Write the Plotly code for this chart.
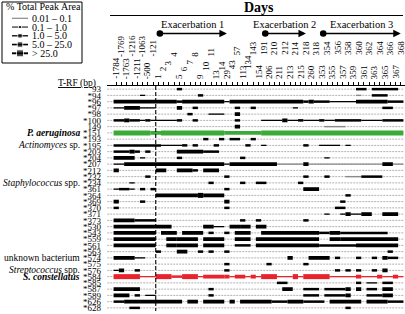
import plotly.graph_objects as go

# ---------------- data ----------------
days = [-1784, -1769, -1763, -1216, -1211, -1063, -500, -121,
        1, 2, 3, 4, 5, 6, 7, 8, 9, 10, 11, 13, 14, 29, 43, 57,
        113, 134, 143, 154, 191, 206, 210, 211, 212, 213, 214, 215, 218,
        260, 318, 353, 354, 355, 356, 357, 358, 359, 360, 361, 362, 363,
        364, 365, 366, 367, 368]

trf_labels = ["93", "*94", "*96", "*97", "*98", "*100", "149", "*151", "*193", "*195",
              "*203", "*204", "*207", "*212", "*232", "*234", "*361", "*364", "*369",
              "*370", "*371", "*373", "*530", "*543", "*559", "*561", "*563", "*574",
              "*575", "*576", "*584", "*585", "*587", "*589", "*626", "*628"]

species_trf = ["*151", "*195", "*234", "*574", "*576", "*584"]
species_names = ["<b><i>P. aeruginosa</i></b>", "<i>Actinomyces</i> sp.",
                 "<i>Staphylococcus</i> spp.", "unknown bacterium",
                 "<i>Streptococcus</i> spp.", "<b><i>S. constellatus</i></b>"]

highlight_trf = ["*151", "*584"]
highlight_colors = ["#3aab36", "#e8232b"]

area_classes = ["0.01 \u2013 0.1", "0.1 \u2013 1.0", "1.0 \u2013 5.0", "5.0 \u2013 25.0", "> 25.0"]

exacerbation_names = ["Exacerbation 1", "Exacerbation 2", "Exacerbation 3"]
exacerbation_start = [1, 191, 353]
exacerbation_end = [29, 218, 368]

# peak-area class (1..5) over runs of sampling days: (first day, last day, class)
t93 = [(5, 5, 3), (360, 361, 3), (363, 367, 3)]
t94 = [(-1063, -1063, 2), (9, 9, 3), (360, 360, 1), (363, 365, 3)]
t96 = [(-1784, 4, 4), (5, 5, 3), (6, 14, 4), (29, 29, 2), (43, 215, 4), (218, 218, 3),
       (260, 260, 4), (318, 354, 3), (355, 359, 2), (360, 365, 4), (366, 368, 3)]
t97 = [(-1784, -1769, 2), (-1763, -1211, 4), (-1063, -121, 2), (5, 5, 4), (8, 8, 3),
       (57, 57, 3), (143, 143, 3), (214, 214, 2), (365, 366, 3)]
t98 = [(7, 7, 3), (11, 14, 2), (57, 57, 4)]
t100 = [(-1784, -1769, 3), (-1763, -1763, 4), (-1216, -1211, 3), (-1063, -1063, 2),
        (-500, -500, 3), (-121, 4, 2), (5, 5, 3), (8, 8, 3), (57, 57, 3), (191, 211, 2),
        (212, 212, 4), (213, 214, 2), (215, 215, 3), (218, 318, 2), (353, 353, 3),
        (354, 355, 2), (356, 360, 3), (361, 364, 2), (365, 368, 3)]
t149 = [(57, 57, 4), (354, 357, 1)]
t151 = [(-1784, -500, 5), (-121, 1, 4), (2, 14, 5), (29, 154, 4), (191, 368, 5)]
t193 = [(10, 10, 3), (14, 14, 3), (43, 57, 3), (143, 143, 3)]
t195 = [(-1784, 1, 3), (2, 5, 2), (6, 6, 3), (8, 8, 3), (13, 13, 3), (134, 134, 3),
        (191, 191, 2), (218, 218, 3), (353, 356, 2), (358, 358, 2)]
t203 = [(-1784, -1763, 3), (-1216, -1216, 4), (-1211, -1211, 3), (-500, -500, 3),
        (5, 9, 4), (10, 13, 3)]
t204 = [(-1784, -1216, 4), (-1063, -1063, 2), (5, 5, 3), (113, 113, 3), (354, 354, 2)]
t207 = [(-1784, -1769, 2), (-1763, 14, 4), (29, 29, 2), (43, 210, 4), (211, 215, 1),
        (218, 218, 4), (260, 364, 1), (365, 366, 4), (367, 368, 1)]
t212 = [(-1784, -1784, 4), (1, 2, 4), (5, 7, 4), (8, 8, 3), (10, 13, 4)]
t232 = [(-500, -500, 3), (29, 29, 3), (218, 218, 3), (354, 354, 3), (358, 360, 1), (361, 364, 3)]
t234 = [(-1216, -1216, 2), (11, 11, 3), (113, 113, 3), (154, 191, 3), (215, 215, 3)]
t361 = [(-1784, -1784, 2), (-1769, -1763, 3), (-1216, -1216, 2), (-1063, -1063, 3),
        (-121, -121, 3), (29, 29, 3), (218, 318, 4)]
t364 = [(1, 8, 4), (9, 9, 5), (10, 14, 4), (358, 358, 3)]
t369 = [(-1784, -1784, 4), (-1063, -1063, 3), (29, 29, 4), (357, 357, 3)]
t370 = [(-1784, -1784, 3), (29, 29, 3), (356, 357, 3)]
t371 = [(354, 354, 2), (357, 357, 2), (358, 358, 4), (359, 360, 2), (361, 362, 4), (365, 367, 4)]
t373 = [(-1784, -1216, 4), (-1211, -121, 3), (113, 113, 3), (154, 154, 3), (218, 218, 3)]
t530 = [(-1784, 3, 4), (10, 11, 4), (13, 14, 2), (43, 57, 4), (113, 134, 4), (154, 191, 4)]
t543 = [(-1784, -121, 4), (2, 4, 4), (6, 9, 4), (11, 11, 3), (29, 29, 3), (57, 134, 4),
        (191, 318, 4), (353, 354, 3), (355, 356, 4), (357, 365, 3)]
t559 = [(-1784, -121, 4), (3, 4, 4), (5, 8, 4), (10, 14, 4), (57, 134, 4), (154, 318, 4),
        (355, 356, 4), (357, 367, 4)]
t561 = [(-1784, -121, 4), (3, 4, 4), (5, 8, 4), (10, 14, 4), (57, 134, 3), (154, 318, 4),
        (353, 359, 3), (360, 367, 4)]
t563 = [(1, 1, 3), (5, 6, 4), (9, 9, 3), (11, 11, 3), (29, 29, 3), (366, 366, 3)]
t574 = [(-1784, -1216, 4), (-1211, -1063, 2), (213, 213, 4), (260, 354, 4), (356, 356, 3),
        (360, 360, 3), (363, 363, 3), (365, 365, 4), (366, 367, 3)]
t575 = [(29, 29, 3), (206, 206, 3), (218, 218, 3)]
t576 = [(-1784, -1784, 2), (-1769, -1769, 4), (-1211, -1211, 3), (29, 29, 3), (356, 356, 3),
        (358, 358, 3), (360, 360, 3), (363, 363, 3), (365, 365, 4)]
t584 = [(-1784, -1211, 5), (-1063, -121, 2), (1, 3, 5), (4, 5, 3), (6, 8, 5), (9, 9, 2),
        (10, 14, 4), (29, 29, 4), (43, 43, 2), (57, 113, 4), (134, 134, 2), (143, 143, 4),
        (154, 154, 2), (191, 210, 5), (211, 213, 2), (214, 214, 5), (215, 215, 2),
        (218, 354, 5), (355, 359, 2), (360, 360, 4), (361, 363, 2), (364, 364, 4),
        (365, 366, 2), (367, 367, 4), (368, 368, 2)]
t585 = [(211, 212, 3), (360, 360, 3), (362, 363, 2), (365, 366, 3)]
t587 = [(-1784, -1211, 4), (11, 11, 3), (212, 213, 4), (218, 318, 3), (354, 357, 3),
        (358, 358, 4), (360, 360, 4), (362, 363, 3), (365, 366, 4)]
t589 = [(-1784, -1763, 4), (-1211, -1211, 3), (-500, -121, 2), (11, 11, 3), (218, 318, 3),
        (354, 357, 3), (358, 358, 4), (362, 364, 3), (365, 366, 4)]
t626 = [(-1784, -1769, 3), (-1763, 5, 4), (7, 8, 4), (10, 14, 4), (43, 43, 4), (113, 206, 4),
        (210, 212, 3), (213, 215, 4), (218, 353, 3), (355, 359, 4), (360, 360, 4),
        (362, 365, 4), (366, 368, 3)]
t628 = [(-1216, -1211, 3), (358, 358, 3)]

profiles = [t93, t94, t96, t97, t98, t100, t149, t151, t193, t195, t203, t204, t207, t212,
            t232, t234, t361, t364, t369, t370, t371, t373, t530, t543, t559, t561, t563,
            t574, t575, t576, t584, t585, t587, t589, t626, t628]

# ---------------- layout helpers ----------------
W, H = 405, 314
FONT = "Liberation Serif"


def px(v):
    return v / W


def py(v):
    return 1 - v / H


col = {d: i for i, d in enumerate(days)}
n_days = len(days)
n_rows = len(trf_labels)

fig = go.Figure()

# row baselines
bx, by = [], []
for r in range(n_rows):
    bx += [-1.7, n_days - 0.4, None]
    by += [r, r, None]
fig.add_trace(go.Scatter(x=bx, y=by, mode="lines", hoverinfo="skip",
                         line=dict(color="#b2b2b2", width=1, dash="2px,1px")))

# peak-area segments
class_width = {1: 1.4, 2: 1.3, 3: 2.5, 4: 3.8, 5: 5.0}
row_color = dict(zip(highlight_trf, highlight_colors))
groups = {}
for r, (lab, segs) in enumerate(zip(trf_labels, profiles)):
    base = row_color.get(lab, "black")
    for d0, d1, cls in segs:
        c = base if (cls > 1 or base != "black") else "#8a8a8a"
        gx, gy = groups.setdefault((cls, c), ([], []))
        gx += [col[d0] - 0.5, col[d1] + 0.5, None]
        gy += [r, r, None]
for key in sorted(groups, key=lambda k: k[0]):
    gx, gy = groups[key]
    fig.add_trace(go.Scatter(x=gx, y=gy, mode="lines", hoverinfo="skip",
                             line=dict(color=key[1], width=class_width[key[0]])))

# dashed separator between pre-study samples and day 1
xs = (col[-121] + col[1]) / 2
fig.add_trace(go.Scatter(x=[xs, xs], y=[-0.5, n_rows - 0.5], mode="lines", hoverinfo="skip",
                         line=dict(color="black", width=1.1, dash="4px,2px")))

# legend panel samples
leg_y = [16.3 + 8.75 * i for i in range(len(area_classes))]
leg_lw = [1.2, 1.0, 1.3, 1.6, 1.9]
leg_ms = [0, 3, 4.5, 5.5, 7]
leg_col = ["#8a8a8a", "black", "black", "black", "black"]
annotations = []
for i, lab in enumerate(area_classes):
    fig.add_trace(go.Scatter(x=[10, 18, 26], y=[leg_y[i]] * 3, xaxis="x2", yaxis="y2",
                             mode="lines+markers", hoverinfo="skip",
                             line=dict(color=leg_col[i], width=leg_lw[i]),
                             marker=dict(symbol="square", size=[0, leg_ms[i], 0], color=leg_col[i])))
    annotations.append(dict(x=28, y=leg_y[i], xref="x2", yref="y2", text=lab, showarrow=False,
                            xanchor="left", yanchor="middle",
                            font=dict(family=FONT, size=10, color="black")))
annotations.append(dict(x=41, y=4.8, xref="x2", yref="y2", text="% Total Peak Area", showarrow=False,
                        xanchor="center", yanchor="middle", font=dict(family=FONT, size=10, color="black")))

# header
annotations.append(dict(x=px(259), y=py(8), xref="paper", yref="paper", text="<b>Days</b>",
                        showarrow=False, xanchor="center", yanchor="middle",
                        font=dict(family=FONT, size=14, color="black")))
for name, s, e in zip(exacerbation_names, exacerbation_start, exacerbation_end):
    annotations.append(dict(x=(col[s] + col[e]) / 2, y=py(25), xref="x", yref="paper", text=name,
                            showarrow=False, xanchor="center", yanchor="middle",
                            font=dict(family=FONT, size=10.5, color="black")))
    annotations.append(dict(x=col[e], y=py(33.5), xref="x", yref="paper", text="",
                            ax=col[s], ay=0, axref="x", ayref="pixel", showarrow=True,
                            arrowhead=2, startarrowhead=6, arrowside="end+start",
                            arrowsize=1, startarrowsize=1.1, arrowwidth=1.5, arrowcolor="black"))

# staggered day labels
label_bottom = [80, 58, 80, 58, 80, 58, 80, 58,
                80, 72, 66, 58, 80, 72, 66, 58, 80, 72, 58, 80, 72,
                80, 70, 56, 80, 70, 56, 80, 56, 80]
label_bottom += [56 if i % 2 == 0 else 80 for i in range(len(label_bottom), n_days)]
for i, d in enumerate(days):
    annotations.append(dict(x=i, y=py(label_bottom[i]), xref="x", yref="paper", text=str(d),
                            showarrow=False, textangle=-90, xanchor="center", yanchor="bottom",
                            borderpad=0, font=dict(family=FONT, size=9, color="black")))

annotations.append(dict(x=px(98), y=py(84), xref="paper", yref="paper", text="<u>T-RF (bp)</u>",
                        showarrow=False, xanchor="right", yanchor="middle",
                        font=dict(family=FONT, size=9.5, color="black")))

for lab, name in zip(species_trf, species_names):
    annotations.append(dict(x=px(82), y=trf_labels.index(lab), xref="paper", yref="y", text=name,
                            showarrow=False, xanchor="right", yanchor="middle",
                            font=dict(family=FONT, size=9.5, color="black")))

fig.update_layout(
    width=W, height=H, margin=dict(l=0, r=0, t=0, b=0),
    paper_bgcolor="white", plot_bgcolor="white", showlegend=False, template="none",
    xaxis=dict(domain=[px(107), 1], range=[-1.75, n_days - 0.2], side="top", anchor="y",
               showline=True, linecolor="black", linewidth=1, ticks="outside", ticklen=3,
               tickwidth=1, tickcolor="black", tickvals=list(range(n_days)),
               showticklabels=False, showgrid=False, zeroline=False, automargin=False),
    yaxis=dict(domain=[3 / H, 1 - 86 / H], range=[n_rows - 0.5, -0.5], color="black",
               tickvals=list(range(n_rows)), ticktext=trf_labels, showgrid=False,
               zeroline=False, ticks="", showline=False, automargin=False, ticklabelstandoff=5,
               tickfont=dict(family=FONT, size=9, color="black")),
    xaxis2=dict(domain=[px(2), px(82)], range=[0, 80], visible=False, anchor="y2"),
    yaxis2=dict(domain=[1 - 63 / H, 1 - 2 / H], range=[61, 0], visible=False, anchor="x2"),
    shapes=[dict(type="rect", xref="paper", yref="paper", x0=px(2), x1=px(82), y0=py(63), y1=py(2),
                 line=dict(color="black", width=1)),
            dict(type="line", xref="paper", yref="paper", x0=px(110), x1=px(403), y0=py(15.5),
                 y1=py(15.5), line=dict(color="black", width=1.2))],
    annotations=annotations,
)

fig.write_html("out.html", config={"displayModeBar": False, "staticPlot": True},
               post_script="document.body.style.margin='0px';document.body.style.padding='0px';")
